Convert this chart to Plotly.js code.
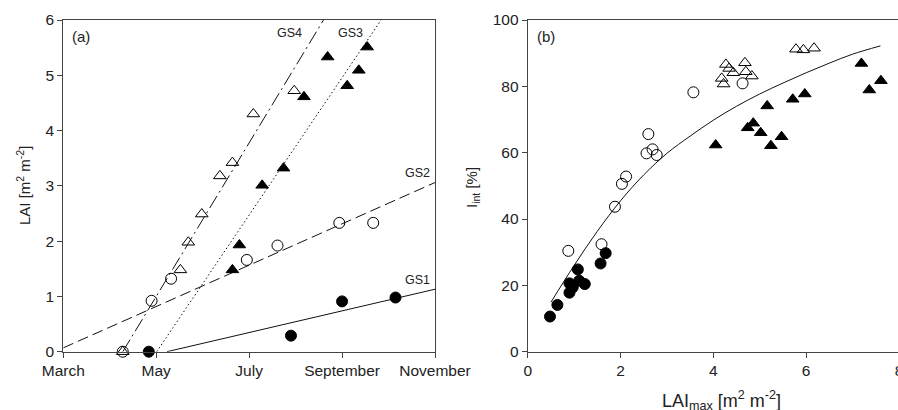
<!DOCTYPE html>
<html>
<head>
<meta charset="utf-8">
<script src="https://cdn.plot.ly/plotly-3.0.1.min.js"></script>
<style>
html, body { margin:0; padding:0; overflow:hidden; background:#fff; width:898px; height:410px; }
#chart { width:910px; height:410px; }
</style>
</head>
<body>
<div id="chart"></div>
<script>
// ---------- Panel (a): LAI over the season ----------
const monthTickVals = [3, 5, 7, 9, 11];
const monthTickText = ['March', 'May', 'July', 'September', 'November'];

const gs1Month = [4.84, 7.90, 9.00, 10.15];
const gs1Lai   = [0, 0.29, 0.91, 0.98];
const gs2Month = [4.28, 4.90, 5.32, 6.95, 7.61, 8.94, 9.67];
const gs2Lai   = [0, 0.92, 1.32, 1.66, 1.92, 2.33, 2.33];
const gs3Month = [6.64, 6.79, 7.28, 7.74, 8.18, 8.69, 9.11, 9.36, 9.54];
const gs3Lai   = [1.48, 1.93, 3.01, 3.32, 4.61, 5.33, 4.81, 5.09, 5.51];
const gs4Month = [4.28, 5.52, 5.69, 5.98, 6.37, 6.64, 7.09, 7.97];
const gs4Lai   = [0, 1.48, 1.98, 2.49, 3.18, 3.42, 4.30, 4.72];

// fitted regression lines (end points)
const gs1FitMonth = [5.23, 11];  const gs1FitLai = [0, 1.13];
const gs2FitMonth = [3, 11];     const gs2FitLai = [0.07, 3.06];
const gs3FitMonth = [5.01, 9.84]; const gs3FitLai = [0, 6];
const gs4FitMonth = [4.28, 8.60]; const gs4FitLai = [0, 6];

// ---------- Panel (b): interception vs LAImax ----------
const gs1LaiMax = [0.48, 0.64, 0.90, 0.97, 0.90, 1.08, 1.11, 1.23, 1.57, 1.68];
const gs1Iint   = [10.6, 14.1, 20.6, 19.4, 17.8, 24.8, 21.4, 20.4, 26.6, 29.7];
const gs2LaiMax = [0.875, 1.59, 1.88, 2.03, 2.12, 2.56, 2.60, 2.69, 2.78, 3.57, 4.63];
const gs2Iint   = [30.4, 32.4, 43.7, 50.6, 52.8, 59.8, 65.6, 61.0, 59.3, 78.2, 80.9];
const gs3LaiMax = [4.05, 4.74, 4.86, 5.02, 5.16, 5.24, 5.47, 5.71, 5.97, 7.19, 7.36, 7.61];
const gs3Iint   = [62.3, 67.5, 68.9, 66.0, 74.1, 62.1, 64.8, 76.1, 77.7, 86.9, 78.9, 81.7];
const gs4LaiMax = [4.18, 4.22, 4.27, 4.34, 4.43, 4.68, 4.70, 4.83, 5.78, 5.94, 6.17];
const gs4Iint   = [82.4, 80.7, 86.6, 85.4, 84.1, 87.1, 84.4, 83.1, 91.2, 91.0, 91.5];

// fitted curve
const fitLaiMax = [0.5, 1.0, 1.5, 2.0, 2.5, 3.0, 3.5, 4.0, 4.5, 5.0, 5.5, 6.0, 6.5, 7.0, 7.6];
const fitIint   = [14.9, 26.0, 36.3, 45.5, 53.3, 59.8, 65.0, 69.8, 74.0, 77.7, 81.0, 84.1, 87.0, 89.7, 92.2];

// ---------- styling / geometry ----------
const W = 910, H = 410;
const FONT = 'Liberation Sans, Arial, sans-serif';
const AX = '#444';
const px = v => v / W;
const py = v => 1 - v / H;

function lineTrace(x, y, dash, xa, ya) {
  return {x, y, xaxis: xa, yaxis: ya, type: 'scatter', mode: 'lines',
          line: {color: '#111', width: 1, dash: dash}, hoverinfo: 'skip', showlegend: false};
}
function markTrace(x, y, symbol, size, xa, ya) {
  return {x, y, xaxis: xa, yaxis: ya, type: 'scatter', mode: 'markers', cliponaxis: false,
          marker: {symbol: symbol, size: size, color: '#000', line: {color: '#000', width: 1}},
          showlegend: false};
}

const traces = [
  lineTrace(gs1FitMonth, gs1FitLai, 'solid', 'x', 'y'),
  lineTrace(gs2FitMonth, gs2FitLai, '11px,5px', 'x', 'y'),
  lineTrace(gs3FitMonth, gs3FitLai, '1.5px,2.5px', 'x', 'y'),
  lineTrace(gs4FitMonth, gs4FitLai, '14px,4px,2px,4px', 'x', 'y'),
  markTrace(gs2Month, gs2Lai, 'circle-open', 11, 'x', 'y'),
  markTrace(gs4Month, gs4Lai, 'triangle-up-open', 11, 'x', 'y'),
  markTrace(gs1Month, gs1Lai, 'circle', 11, 'x', 'y'),
  markTrace(gs3Month, gs3Lai, 'triangle-up', 11, 'x', 'y'),

  {x: fitLaiMax, y: fitIint, xaxis: 'x2', yaxis: 'y2', type: 'scatter', mode: 'lines',
   line: {color: '#111', width: 1, shape: 'spline'}, showlegend: false, hoverinfo: 'skip'},
  markTrace(gs2LaiMax, gs2Iint, 'circle-open', 11, 'x2', 'y2'),
  markTrace(gs4LaiMax, gs4Iint, 'triangle-up-open', 11, 'x2', 'y2'),
  markTrace(gs1LaiMax, gs1Iint, 'circle', 11, 'x2', 'y2'),
  markTrace(gs3LaiMax, gs3Iint, 'triangle-up', 11, 'x2', 'y2')
];

const axisCommon = {
  showgrid: false, zeroline: false, showline: true, linecolor: AX, linewidth: 1,
  mirror: true, ticks: 'outside', ticklen: 5, tickcolor: AX, tickwidth: 1,
  tickfont: {family: FONT, size: 15.5, color: '#222'}, fixedrange: true
};

const ann = (text, x, y, size, xanchor, extra) => Object.assign({
  text, x: px(x), y: py(y), xref: 'paper', yref: 'paper', showarrow: false,
  xanchor: xanchor || 'center', yanchor: 'middle',
  font: {family: FONT, size: size, color: '#222'}
}, extra || {});

const layout = {
  width: W, height: H,
  margin: {l: 0, r: 0, t: 0, b: 0},
  paper_bgcolor: '#fff', plot_bgcolor: '#fff',
  showlegend: false,
  xaxis: Object.assign({}, axisCommon, {domain: [px(63.3), px(435)], range: [3, 11],
    tickmode: 'array', tickvals: monthTickVals, ticktext: monthTickText, anchor: 'y'}),
  yaxis: Object.assign({}, axisCommon, {domain: [py(351.7), py(20)], range: [0, 6],
    tickvals: [0, 1, 2, 3, 4, 5, 6], anchor: 'x'}),
  xaxis2: Object.assign({}, axisCommon, {domain: [px(527.7), px(899)], range: [0, 8],
    tickvals: [0, 2, 4, 6, 8], anchor: 'y2'}),
  yaxis2: Object.assign({}, axisCommon, {domain: [py(351.7), py(20)], range: [0, 100],
    tickvals: [0, 20, 40, 60, 80, 100], anchor: 'x2'}),
  annotations: [
    ann('(a)', 70, 37, 15, 'left'),
    ann('(b)', 535, 37, 15, 'left'),
    ann('GS4', 289.5, 33, 12.5),
    ann('GS3', 350, 33, 12.5),
    ann('GS2', 417.5, 173, 12.5),
    ann('GS1', 417.5, 280, 12.5),
    ann('LAI [m<sup>2</sup> m<sup>-2</sup>]', 24, 186, 15, 'center', {textangle: -90}),
    ann('I<sub>int</sub> [%]', 473, 188, 15, 'center', {textangle: -90}),
    ann('LAI<sub>max</sub> [m<sup>2</sup> m<sup>-2</sup>]', 721, 400, 18)
  ]
};

Plotly.newPlot('chart', traces, layout, {staticPlot: true, displayModeBar: false});
</script>
</body>
</html>
